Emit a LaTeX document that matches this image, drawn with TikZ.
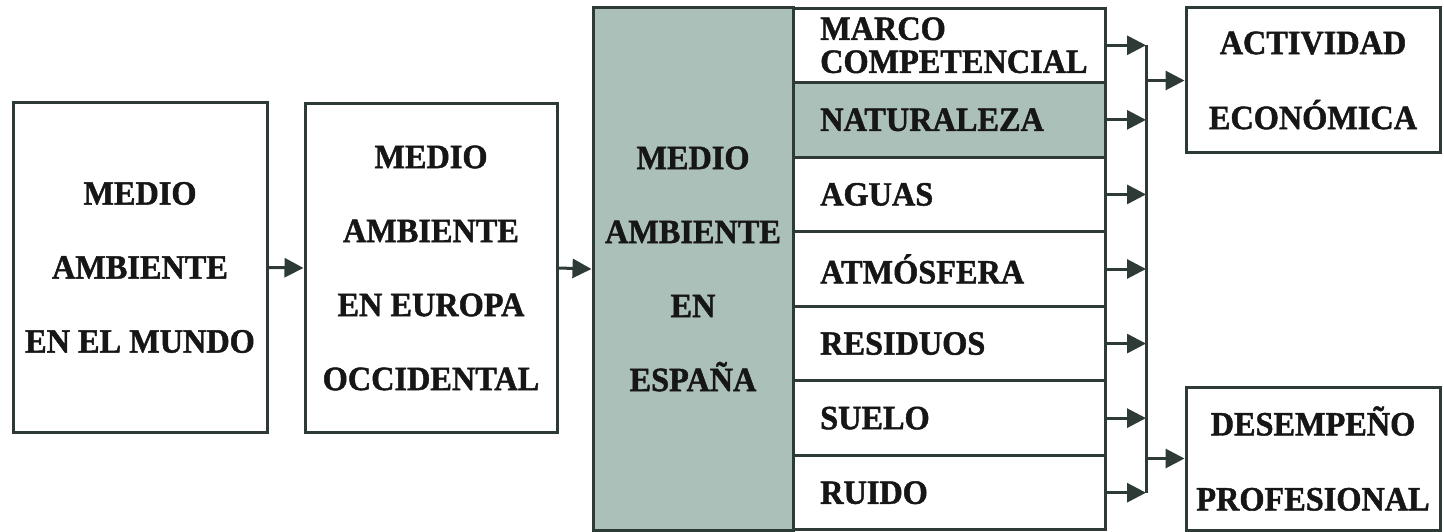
\documentclass[tikz,border=0pt]{standalone}
\usepackage{fontspec}
\newfontfamily\lab[FakeStretch=0.95,FakeBold=1.3]{Liberation Serif}
\usetikzlibrary{arrows.meta}
\definecolor{fillg}{RGB}{172,192,186}
\definecolor{edge}{RGB}{45,58,54}
\definecolor{ink}{RGB}{22,22,22}
\begin{document}
\begin{tikzpicture}[x=1pt,y=-1pt,
 box/.style={draw=edge,line width=3pt,inner sep=0pt,text=ink,align=center,font=\lab\bfseries\fontsize{34}{74}\selectfont},
 rowbox/.style={draw=edge,line width=3pt,inner sep=0pt,minimum width=312pt,minimum height=74.57pt},
 lbl/.style={anchor=west,inner sep=0pt,text=ink,align=left,font=\lab\bfseries\fontsize{34}{33}\selectfont},
 arr/.style={draw=edge,line width=3pt,-{Triangle[length=19pt,width=19pt]}},
 busline/.style={draw=edge,line width=3pt}]
\useasboundingbox (0,0) rectangle (1444,532);
% main boxes
\node[box,minimum width=254pt,minimum height=329pt] (mundo) at (140,267.5) {MEDIO\\AMBIENTE\\EN EL MUNDO};
\node[box,minimum width=252pt,minimum height=329pt] (europa) at (431,268) {MEDIO\\AMBIENTE\\EN EUROPA\\OCCIDENTAL};
\node[box,fill=fillg,minimum width=200pt,minimum height=522pt] (espana) at (693,269) {MEDIO\\AMBIENTE\\EN\\ESPAÑA};
% rows
\node[rowbox] (r1) at (949,45.29) {};
\node[rowbox,fill=fillg] (r2) at (949,119.86) {};
\node[rowbox] (r3) at (949,194.43) {};
\node[rowbox] (r4) at (949,269.00) {};
\node[rowbox] (r5) at (949,343.57) {};
\node[rowbox] (r6) at (949,418.14) {};
\node[rowbox] (r7) at (949,492.71) {};
\node[lbl] (t1) at (820,45.29) {MARCO\\COMPETENCIAL};
\node[lbl] (t2) at (820,119.86) {NATURALEZA};
\node[lbl] (t3) at (820,194.43) {AGUAS};
\node[lbl] (t4) at (820,269.00) {ATMÓSFERA};
\node[lbl] (t5) at (820,343.57) {RESIDUOS};
\node[lbl] (t6) at (820,418.14) {SUELO};
\node[lbl] (t7) at (820,492.71) {RUIDO};
% right boxes
\node[box,font=\lab\bfseries\fontsize{34}{75}\selectfont,minimum width=254pt,minimum height=145pt] (act) at (1313,80.5) {ACTIVIDAD\\ECONÓMICA};
\node[box,font=\lab\bfseries\fontsize{34}{75}\selectfont,minimum width=254pt,minimum height=143pt] (des) at (1313,458.5) {DESEMPEÑO\\PROFESIONAL};
% connectors
\draw[arr] (mundo.east) -- (europa.west);
\draw[arr] (europa.east) -- (espana.west);
\coordinate (bt) at (1146,45.29);
\coordinate (bb) at (1146,492.71);
\draw[busline] (bt) -- (bb);
\foreach \r in {r1,r2,r3,r4,r5,r6,r7}{
  \draw[arr] (\r.east) -- (\r.east -| bt);
}
\draw[arr] (act.west -| bt) -- (act.west);
\draw[arr] (des.west -| bt) -- (des.west);
\end{tikzpicture}
\end{document}
